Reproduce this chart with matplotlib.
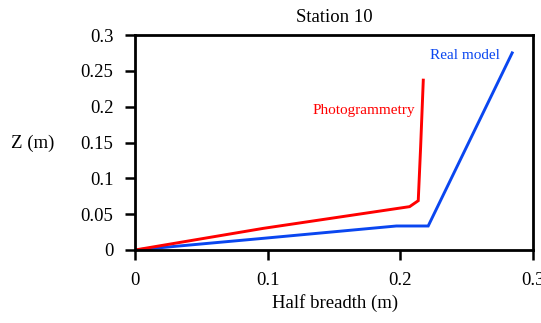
import matplotlib
matplotlib.use("Agg")
import matplotlib.pyplot as plt

plt.rcParams['font.family'] = ['Liberation Serif', 'DejaVu Serif']

real_x = [0.0, 0.0967, 0.197, 0.221, 0.2843]
real_z = [0.0, 0.0163, 0.0335, 0.0335, 0.275]
photo_x = [0.0, 0.0967, 0.207, 0.2135, 0.2153, 0.2173]
photo_z = [0.0, 0.0302, 0.0605, 0.0688, 0.144, 0.237]

xticks = [0, 0.1, 0.2, 0.3]
xtick_labels = ['0', '0.1', '0.2', '0.3']
yticks = [0, 0.05, 0.1, 0.15, 0.2, 0.25, 0.3]
ytick_labels = ['0', '0.05', '0.1', '0.15', '0.2', '0.25', '0.3']

fig = plt.figure(figsize=(5.41, 3.23), dpi=100)
ax = fig.add_axes([135/541, 1-250/323, (533-135)/541, (250-35)/323])

ax.plot(real_x, real_z, color='#0a46f0', lw=2.1, solid_joinstyle='miter')
ax.plot(photo_x, photo_z, color='#ff0000', lw=2.1, solid_joinstyle='miter')

ax.set_xlim(0, 0.3)
ax.set_ylim(0, 0.3)
ax.set_xticks(xticks)
ax.set_xticklabels(xtick_labels)
ax.set_yticks(yticks)
ax.set_yticklabels(ytick_labels)
ax.tick_params(direction='out', length=7.5, width=1.8, labelsize=13.5)
ax.tick_params(axis='y', pad=8)
ax.tick_params(axis='x', pad=8)
for s in ax.spines.values():
    s.set_linewidth(2)

ax.text(0.275, 0.272, 'Real model', color='#0a46f0', fontsize=11, ha='right', va='center')
ax.text(0.211, 0.195, 'Photogrammetry', color='#ff0000', fontsize=11, ha='right', va='center')

fig.text(334/541, 1-17/323, 'Station 10', fontsize=13.5, ha='center', va='center')
fig.text(335/541, 1-303/323, 'Half breadth (m)', fontsize=13.5, ha='center', va='center')
fig.text(33/541, 1-143/323, 'Z (m)', fontsize=13.5, ha='center', va='center')

fig.savefig('out.png', dpi=100)
